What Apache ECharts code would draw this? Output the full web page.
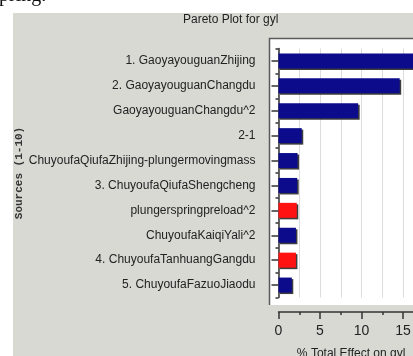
<!DOCTYPE html>
<html>
<head>
<meta charset="utf-8">
<script src="https://cdn.jsdelivr.net/npm/echarts@6/dist/echarts.min.js"></script>
<style>
  html, body { margin: 0; padding: 0; background: #ffffff; }
  #chart { width: 413px; height: 356px; }
</style>
</head>
<body>
<div id="chart"></div>
<script>
// Sources of variation, ranked by their share of the total effect on gyl
const sources = [
  '1. GaoyayouguanZhijing',
  '2. GaoyayouguanChangdu',
  'GaoyayouguanChangdu^2',
  '2-1',
  'ChuyoufaQiufaZhijing-plungermovingmass',
  '3. ChuyoufaQiufaShengcheng',
  'plungerspringpreload^2',
  'ChuyoufaKaiqiYali^2',
  '4. ChuyoufaTanhuangGangdu',
  '5. ChuyoufaFazuoJiaodu'
];
// % total effect on gyl for each source
const totalEffect = [16.3, 14.6, 9.6, 2.8, 2.3, 2.25, 2.2, 2.1, 2.1, 1.6];
// direction of each effect
const effectSign = ['+', '+', '+', '+', '+', '+', '-', '+', '-', '+'];
// x axis ticks
const xMajorTicks = [0, 5, 10, 15];

const LABEL_FONT = '"Liberation Sans Narrow", "Arial Narrow", "Liberation Sans", Arial, sans-serif';
const POS_COLOR = '#0b0b8c';
const NEG_COLOR = '#ff1212';

const chart = echarts.init(document.getElementById('chart'), null, { renderer: 'canvas' });

chart.setOption({
  animation: false,
  backgroundColor: '#ffffff',
  graphic: [
    // grey panel
    { type: 'rect', z: -10, shape: { x: 13, y: 13, width: 400, height: 343 },
      style: { fill: '#d9d9d4' } },
    // white plotting area with inset border
    { type: 'rect', z: -9, shape: { x: 269, y: 38, width: 150, height: 267 },
      style: { fill: '#ffffff' } },
    { type: 'polyline', z: -8, shape: { points: [[269.5, 305], [269.5, 38.5], [413, 38.5]] },
      style: { stroke: '#5a5a5a', lineWidth: 1.5, fill: null } },
    // text from the surrounding document
    { type: 'text', left: -1, top: -14,
      style: { text: 'pring.', font: '20px "Liberation Serif", "Times New Roman", serif', fill: '#111' } },
    // title
    { type: 'text', left: 183, top: 14,
      style: { text: 'Pareto Plot for gyl', font: '12px ' + LABEL_FONT, fill: '#222' } }
  ],
  grid: { left: 278.5, top: 48.5, right: -10.75, bottom: 58.5, outerBoundsMode: 'none', containLabel: false },
  xAxis: [
    {
      type: 'value', min: 0, max: 17.5, interval: 5, position: 'bottom', offset: 14.5,
      axisLine: { show: true, lineStyle: { color: '#333', width: 1.5 } },
      axisTick: { show: true, length: 7, lineStyle: { color: '#333', width: 1.5 } },
      axisLabel: {
        margin: 12, color: '#222', fontSize: 14, fontFamily: LABEL_FONT,
        formatter: v => xMajorTicks.includes(v) ? String(v) : ''
      },
      splitLine: { show: false },
      name: '% Total Effect on gyl', nameLocation: 'middle', nameGap: 36,
      nameTextStyle: { color: '#222', fontSize: 12, fontFamily: LABEL_FONT }
    },
    {
      type: 'value', min: 0, max: 17.5, interval: 2.5, position: 'bottom', offset: 14.5,
      axisLine: { show: false },
      axisTick: { show: true, length: 3, lineStyle: { color: '#333', width: 1.5 } },
      axisLabel: { show: false },
      splitLine: { show: true, lineStyle: { color: '#dcdcdc', width: 1 } }
    }
  ],
  yAxis: [
    {
      type: 'category', data: sources, inverse: true, position: 'left', offset: 11,
      axisLine: { show: true, lineStyle: { color: '#333', width: 1.5 } },
      axisTick: { show: true, alignWithLabel: true, length: 7, lineStyle: { color: '#333', width: 1.5 } },
      axisLabel: { margin: 12, color: '#222', fontSize: 12, fontFamily: LABEL_FONT },
      name: 'Sources (1-10)', nameLocation: 'middle', nameGap: 235, nameRotate: 90,
      nameTextStyle: { color: '#333', fontSize: 11, fontWeight: 'bold',
        fontFamily: '"Liberation Mono", "DejaVu Sans Mono", monospace' }
    },
    {
      type: 'category', data: sources, inverse: true, position: 'left', offset: 11,
      axisLine: { show: false },
      axisTick: { show: true, length: 3, lineStyle: { color: '#333', width: 1.5 } },
      axisLabel: { show: false }
    }
  ],
  series: [{
    type: 'bar',
    xAxisIndex: 0, yAxisIndex: 0,
    barWidth: 15,
    data: totalEffect.map((v, i) => ({
      value: v,
      itemStyle: { color: effectSign[i] === '-' ? NEG_COLOR : POS_COLOR }
    })),
    itemStyle: {
      shadowColor: 'rgba(40,40,40,0.9)', shadowBlur: 0, shadowOffsetX: 1.5, shadowOffsetY: 1.5
    }
  }]
});
</script>
</body>
</html>
